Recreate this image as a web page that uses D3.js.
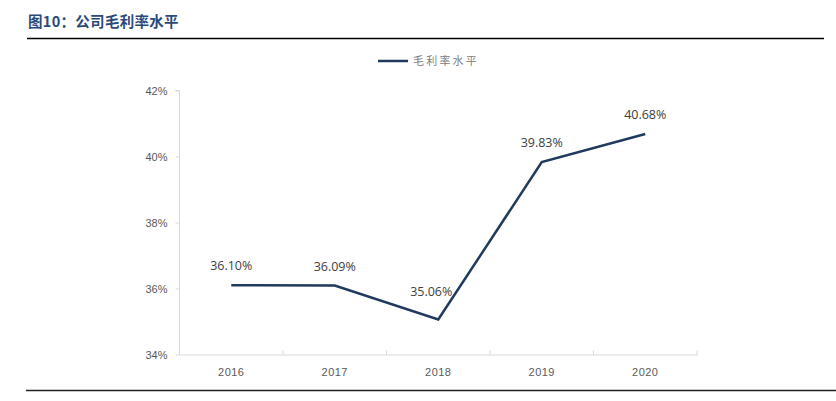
<!DOCTYPE html>
<html><head><meta charset="utf-8">
<script src="https://cdn.jsdelivr.net/npm/d3@7/dist/d3.min.js"></script>
<style>body{margin:0;background:#fff}svg{display:block}</style>
</head><body><svg id="c" width="836" height="401"></svg>
<script>
const categories = ["2016","2017","2018","2019","2020"];
const values = [36.10, 36.09, 35.06, 39.83, 40.68];
const yTicks = [34, 36, 38, 40, 42];
const seriesName = "毛利率水平";
const title = "图10：公司毛利率水平";

const svg = d3.select("#c");
const lineColor = "#203a5e";

svg.append("text").attr("x", 28).attr("y", 27)
  .attr("font-family", "Noto Sans CJK SC").attr("font-weight", "bold")
  .attr("font-size", 14.5).attr("letter-spacing", 0.3).attr("fill", "#2b4a7a").text(title);
svg.append("line").attr("x1", 27).attr("x2", 824).attr("y1", 38.5).attr("y2", 38.5)
  .attr("stroke", "#000").attr("stroke-width", 1.5);
svg.append("line").attr("x1", 26).attr("x2", 836).attr("y1", 390.5).attr("y2", 390.5)
  .attr("stroke", "#222").attr("stroke-width", 1.5);

const x = d3.scaleBand().domain(categories).range([179.5, 697]);
const y = d3.scaleLinear().domain([34, 42]).range([354.5, 90.5]);

// y axis
const ya = svg.append("g").attr("transform", "translate(179.5,0)")
  .call(d3.axisLeft(y).tickValues(yTicks).tickSize(4).tickFormat(d => d + "%"));
ya.select(".domain").attr("stroke", "#d9d9d9").attr("d", `M-4,${y(42)}H0V${y(34)}`);
ya.selectAll(".tick line").attr("stroke", "#d9d9d9");
ya.selectAll(".tick text").attr("x", -12).attr("fill", "#595959")
  .attr("font-family", "Liberation Sans, Arial").attr("font-size", 11);

// x axis
const xa = svg.append("g").attr("transform", `translate(0,${y(34)})`)
  .call(d3.axisBottom(x).tickSize(0).tickFormat(d => d));
xa.select(".domain").attr("stroke", "#d9d9d9");
xa.selectAll(".tick text").attr("dy", 0).attr("y", 21).attr("fill", "#595959")
  .attr("letter-spacing", 0.5)
  .attr("font-family", "Liberation Sans, Arial").attr("font-size", 11);
const edges = categories.map(c => x(c)).concat([x.range()[1]]);
xa.selectAll(".sep").data(edges).enter().append("line")
  .attr("x1", d => d).attr("x2", d => d).attr("y1", 0).attr("y2", -4)
  .attr("stroke", "#d9d9d9");

const cx = d => x(d) + x.bandwidth() / 2;
const pts = categories.map((c, i) => [cx(c), y(values[i])]);
svg.append("path").attr("d", d3.line()(pts)).attr("fill", "none")
  .attr("stroke", lineColor).attr("stroke-width", 2.5);

svg.selectAll(".lbl").data(categories).enter().append("text")
  .attr("x", (c, i) => cx(c) + (i === 2 ? -7 : 0))
  .attr("y", (c, i) => y(values[i]) - (i === 2 ? 24 : 15))
  .attr("text-anchor", "middle").attr("fill", "#404040")
  .attr("font-family", "Open Sans, Liberation Sans").attr("font-size", 12.5)
  .text((c, i) => values[i].toFixed(2) + "%");

// legend
svg.append("line").attr("x1", 378).attr("x2", 408).attr("y1", 61).attr("y2", 61)
  .attr("stroke", lineColor).attr("stroke-width", 2.5);
svg.append("text").attr("x", 413).attr("y", 65).attr("fill", "#808080")
  .attr("letter-spacing", 2.2)
  .attr("font-family", "Noto Sans CJK SC").attr("font-size", 11).text(seriesName);
</script></body></html>
